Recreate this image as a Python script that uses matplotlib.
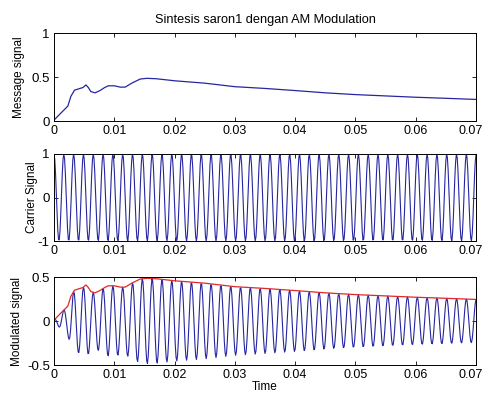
import matplotlib
matplotlib.use("Agg")
import matplotlib.pyplot as plt
import matplotlib.transforms as mtransforms
import numpy as np

plt.rcParams["font.family"] = ["Liberation Sans", "DejaVu Sans"]
plt.rcParams["font.size"] = 8.5

# Message envelope (time in s, amplitude)
MSG_T = [0.0, 0.0010, 0.0023, 0.0028, 0.0034, 0.0043, 0.0048, 0.0053, 0.0057,
         0.0061, 0.0068, 0.0076, 0.0084, 0.0090, 0.0100, 0.0110, 0.0118, 0.0129,
         0.0143, 0.0154, 0.0170, 0.0200, 0.0250, 0.0300, 0.0350, 0.0400, 0.0450,
         0.0500, 0.0550, 0.0600, 0.0650, 0.0700]
MSG_V = [0.01, 0.08, 0.17, 0.28, 0.35, 0.37, 0.38, 0.41, 0.38,
         0.335, 0.32, 0.345, 0.38, 0.40, 0.40, 0.385, 0.385, 0.43,
         0.477, 0.485, 0.48, 0.457, 0.43, 0.39, 0.37, 0.346, 0.32,
         0.30, 0.285, 0.27, 0.258, 0.245]

CARRIER_HZ = 614.0
SAMPLE_HZ = 8000.0
T_END = 0.07

X_TICKS = [0, 0.01, 0.02, 0.03, 0.04, 0.05, 0.06, 0.07]
X_LABELS = ["0", "0.01", "0.02", "0.03", "0.04", "0.05", "0.06", "0.07"]

BLUE = "#2626a0"
RED = "#e02828"

t = np.arange(0, T_END + 1 / SAMPLE_HZ, 1 / SAMPLE_HZ)
carrier = np.cos(2 * np.pi * CARRIER_HZ * t)
modulated = np.interp(t, MSG_T, MSG_V) * carrier

fig = plt.figure(figsize=(4.86, 3.96), dpi=100)
W, H = 486, 396
# nudge the last x label so "0.07" stays inside the figure
nudge = mtransforms.ScaledTranslation(-0.05, 0, fig.dpi_scale_trans)


def add_ax(top_px, bottom_px):
    return fig.add_axes([54 / W, 1 - bottom_px / H, (476 - 54) / W, (bottom_px - top_px) / H])


def style(ax, yticks, ylabels):
    ax.set_xlim(0, T_END)
    ax.set_xticks(X_TICKS)
    ax.set_xticklabels(X_LABELS)
    ax.set_yticks(yticks)
    ax.set_yticklabels(ylabels)
    ax.tick_params(direction="in", top=True, right=True, length=3, width=0.6, pad=3,
                   labelsize=9.5)
    ax.tick_params(axis="x", labelsize=9)
    last = ax.get_xticklabels()[-1]
    last.set_transform(last.get_transform() + nudge)
    for s in ax.spines.values():
        s.set_linewidth(0.7)


ax1 = add_ax(33, 121)
ax1.plot(MSG_T, MSG_V, color=BLUE, linewidth=0.9)
ax1.set_ylim(0, 1)
style(ax1, [0, 0.5, 1], ["0", "0.5", "1"])
ax1.set_ylabel("Message signal", labelpad=5)
ax1.set_title("Sintesis saron1 dengan AM Modulation", fontsize=9.2, pad=7)

ax2 = add_ax(154, 241)
ax2.plot(t, carrier, color=BLUE, linewidth=0.8)
ax2.set_ylim(-1, 1)
style(ax2, [-1, 0, 1], ["-1", "0", "1"])
ax2.set_ylabel("Carrier Signal", labelpad=0)

ax3 = add_ax(277, 365)
ax3.plot(t, modulated, color=BLUE, linewidth=0.8)
ax3.plot(MSG_T, MSG_V, color=RED, linewidth=0.9)
ax3.set_ylim(-0.5, 0.5)
style(ax3, [-0.5, 0, 0.5], ["-0.5", "0", "0.5"])
ax3.set_ylabel("Modulated signal", labelpad=3)
ax3.set_xlabel("Time", labelpad=0)

fig.savefig("out.png", dpi=100)
